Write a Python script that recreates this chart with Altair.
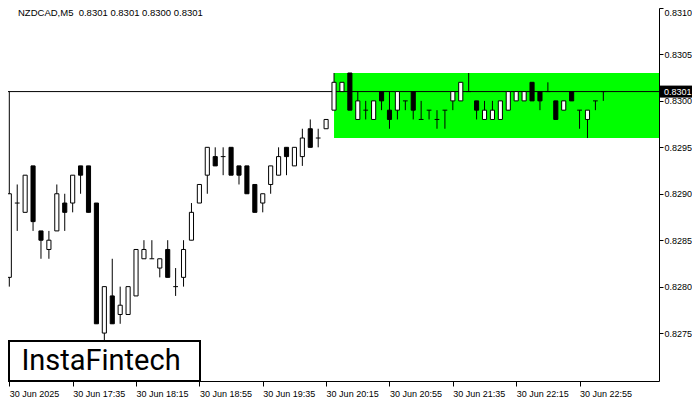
import json
import altair as alt
import pandas as pd

# ---------------- data ----------------
opens = [0.8281, 0.8289, 0.8288, 0.8293, 0.8286, 0.8284, 0.8286, 0.8289, 0.8289, 0.8293,
         0.8293, 0.8289, 0.8275, 0.8279, 0.8277, 0.8277, 0.8279, 0.8283, 0.8283, 0.8282,
         0.8284, 0.8280, 0.8281, 0.8285, 0.8289, 0.8292, 0.8294, 0.8294, 0.8295, 0.8293,
         0.8293, 0.8291, 0.8289, 0.8291, 0.8292, 0.8295, 0.8293, 0.8294, 0.8297, 0.8296,
         0.8297, 0.8299, 0.8301, 0.8303, 0.8298, 0.8299, 0.8298, 0.8301, 0.8299, 0.8299,
         0.8300, 0.8301, 0.8298, 0.8299, 0.8298, 0.8299, 0.8300, 0.8300, 0.8301, 0.8300,
         0.8298, 0.8298, 0.8298, 0.8299, 0.8300, 0.8300, 0.8302, 0.8301, 0.8301, 0.8300,
         0.8299, 0.8301, 0.8299, 0.8298, 0.8300, 0.8301]
highs = [0.8301, 0.8291, 0.8292, 0.8293, 0.8286, 0.8286, 0.8291, 0.8290, 0.8292, 0.8293,
         0.8293, 0.8289, 0.8280, 0.8283, 0.8280, 0.8280, 0.8284, 0.8285, 0.8285, 0.8283,
         0.8285, 0.8282, 0.8285, 0.8289, 0.8291, 0.8295, 0.8295, 0.8295, 0.8295, 0.8293,
         0.8293, 0.8291, 0.8290, 0.8293, 0.8295, 0.8295, 0.8295, 0.8297, 0.8298, 0.8297,
         0.8298, 0.8303, 0.8302, 0.8303, 0.8301, 0.8300, 0.8300, 0.8301, 0.8301, 0.8301,
         0.8300, 0.8301, 0.8300, 0.8299, 0.8299, 0.8299, 0.8301, 0.8302, 0.8303, 0.8300,
         0.8300, 0.8300, 0.8300, 0.8301, 0.8301, 0.8301, 0.8302, 0.8301, 0.8302, 0.8300,
         0.8300, 0.8301, 0.8299, 0.8299, 0.8300, 0.8301]
lows = [0.8280, 0.8286, 0.8288, 0.8286, 0.8283, 0.8283, 0.8286, 0.8286, 0.8288, 0.8290,
        0.8288, 0.8276, 0.8274, 0.8276, 0.8276, 0.8277, 0.8279, 0.8283, 0.8283, 0.8281,
        0.8281, 0.8279, 0.8280, 0.8285, 0.8289, 0.8290, 0.8293, 0.8292, 0.8292, 0.8291,
        0.8290, 0.8288, 0.8288, 0.8290, 0.8292, 0.8292, 0.8293, 0.8293, 0.8295, 0.8295,
        0.8297, 0.8299, 0.8301, 0.8299, 0.8298, 0.8298, 0.8298, 0.8299, 0.8297, 0.8298,
        0.8299, 0.8298, 0.8298, 0.8298, 0.8297, 0.8297, 0.8299, 0.8300, 0.8301, 0.8298,
        0.8298, 0.8298, 0.8298, 0.8299, 0.8300, 0.8300, 0.8300, 0.8299, 0.8301, 0.8298,
        0.8299, 0.8300, 0.8297, 0.8296, 0.8299, 0.8300]
closes = [0.8290, 0.8289, 0.8292, 0.8287, 0.8285, 0.8285, 0.8290, 0.8288, 0.8292, 0.8292,
          0.8288, 0.8276, 0.8280, 0.8276, 0.8278, 0.8280, 0.8284, 0.8284, 0.8283, 0.8283,
          0.8281, 0.8280, 0.8284, 0.8288, 0.8291, 0.8295, 0.8293, 0.8294, 0.8292, 0.8292,
          0.8290, 0.8288, 0.8290, 0.8293, 0.8294, 0.8294, 0.8295, 0.8296, 0.8295, 0.8296,
          0.8298, 0.8302, 0.8302, 0.8299, 0.8300, 0.8299, 0.8300, 0.8300, 0.8298, 0.8301,
          0.8300, 0.8299, 0.8298, 0.8299, 0.8298, 0.8299, 0.8301, 0.8302, 0.8301, 0.8299,
          0.8299, 0.8299, 0.8300, 0.8301, 0.8301, 0.8301, 0.8300, 0.8300, 0.8301, 0.8298,
          0.8300, 0.8300, 0.8299, 0.8299, 0.8300, 0.8301]

tick_index = [0, 8, 16, 24, 32, 40, 48, 56, 64, 72]
tick_labels = ["30 Jun 2025", "30 Jun 17:35", "30 Jun 18:15", "30 Jun 18:55", "30 Jun 19:35",
               "30 Jun 20:15", "30 Jun 20:55", "30 Jun 21:35", "30 Jun 22:15", "30 Jun 22:55"]
price_ticks = [0.8275, 0.8280, 0.8285, 0.8290, 0.8295, 0.8300, 0.8305, 0.8310]

zone_start = [41]
zone_low = [0.8296]
zone_high = [0.8303]
last_price = [0.8301]
header_text = "NZDCAD,M5 \u00a00.8301 0.8301 0.8300 0.8301"
logo_text = "InstaFintech"

# ---------------- layout ----------------
W, H = 651, 373
RP = 33  # right padding so the whole svg is 684 px wide (fits the page without scaling)
xs = alt.Scale(domain=[-0.164, 82.03], nice=False, zero=False)
ys = alt.Scale(domain=[0.826984, 0.8310], nice=False, zero=False)
FONT = "Liberation Sans"

df = pd.DataFrame({"i": list(range(len(opens))), "open": opens, "high": highs,
                   "low": lows, "close": closes})
zone_df = pd.DataFrame({"x1": zone_start, "lo": zone_low, "hi": zone_high})
price_df = pd.DataFrame({"p": last_price, "t": [f"{v:.4f}" for v in last_price]})
one = pd.DataFrame({"a": [0]})

label_expr = f"{json.dumps(tick_labels)}[indexof({json.dumps(tick_index)}, datum.value)]"

x_axis = alt.Axis(values=tick_index, labelExpr=label_expr, title=None, grid=False,
                  domainColor="black", domainWidth=1, tickColor="black", tickSize=5,
                  labelAlign="left", labelBaseline="top", labelPadding=3, labelFlush=False,
                  labelOverlap=False, labelFont=FONT, labelFontSize=9, labelColor="black")
y_axis = alt.Axis(orient="right", values=price_ticks, format=".4f", title=None, grid=False,
                  domainColor="black", domainWidth=1, tickColor="black", tickSize=4,
                  labelPadding=1, labelFlush=True, labelFont=FONT, labelFontSize=9,
                  labelColor="black")


def X(f):
    return alt.X(f, scale=xs, axis=x_axis)


def Y(f):
    return alt.Y(f, scale=ys, axis=y_axis)


zone = alt.Chart(zone_df).mark_rect(color="#00ff00").encode(
    x=X("x1:Q"), x2=alt.value(W), y=Y("lo:Q"), y2="hi:Q")

pline = alt.Chart(price_df).mark_rule(color="black", strokeWidth=1).encode(
    y=Y("p:Q"), x=alt.value(0), x2=alt.value(W))

wicks = alt.Chart(df).mark_rule(color="black", strokeWidth=1).encode(
    x=X("i:Q"), y=Y("low:Q"), y2="high:Q")

bodies = alt.Chart(df).transform_filter("datum.open != datum.close").transform_calculate(
    xl="datum.i - 0.26", xr="datum.i + 0.26").mark_rect(stroke="black", strokeWidth=1).encode(
    x=X("xl:Q"), x2="xr:Q", y=Y("open:Q"), y2="close:Q",
    fill=alt.condition("datum.close > datum.open", alt.value("white"), alt.value("black")))

dojis = alt.Chart(df).transform_filter("datum.open == datum.close").transform_calculate(
    xl="datum.i - 0.3", xr="datum.i + 0.3").mark_rule(color="black", strokeWidth=1).encode(
    x=X("xl:Q"), x2="xr:Q", y=Y("open:Q"))

plabel_box = alt.Chart(price_df).mark_rule(color="black", strokeWidth=12).encode(
    y=Y("p:Q"), x=alt.value(W + 1), x2=alt.value(W + RP))

plabel_txt = alt.Chart(price_df).mark_text(color="white", font=FONT, fontSize=9,
                                           align="left", baseline="middle").encode(
    y=Y("p:Q"), x=alt.value(W + 5), text="t:N")

header = alt.Chart(one).mark_text(text=header_text, font=FONT, fontSize=9.5, color="black",
                                  align="left", baseline="middle").encode(
    x=alt.value(10), y=alt.value(5))

logo_box = alt.Chart(one).mark_rect(fill="white", stroke="black", strokeWidth=2).encode(
    x=alt.value(1), x2=alt.value(192), y=alt.value(333), y2=alt.value(373))

logo = alt.Chart(one).mark_text(text=logo_text, font="Roboto", fontSize=29, color="black",
                                align="center", baseline="middle").encode(
    x=alt.value(93), y=alt.value(353))

chart = alt.layer(zone, pline, wicks, bodies, dojis, plabel_box, plabel_txt,
                  header, logo_box, logo).properties(
    width=W, height=H,
    autosize=alt.AutoSizeParams(type="none"),
    padding={"left": 0, "top": 0, "right": RP, "bottom": 19},
    background="white",
).configure_view(stroke=None)

chart.save("out.html", embed_options={"renderer": "svg", "actions": False})
